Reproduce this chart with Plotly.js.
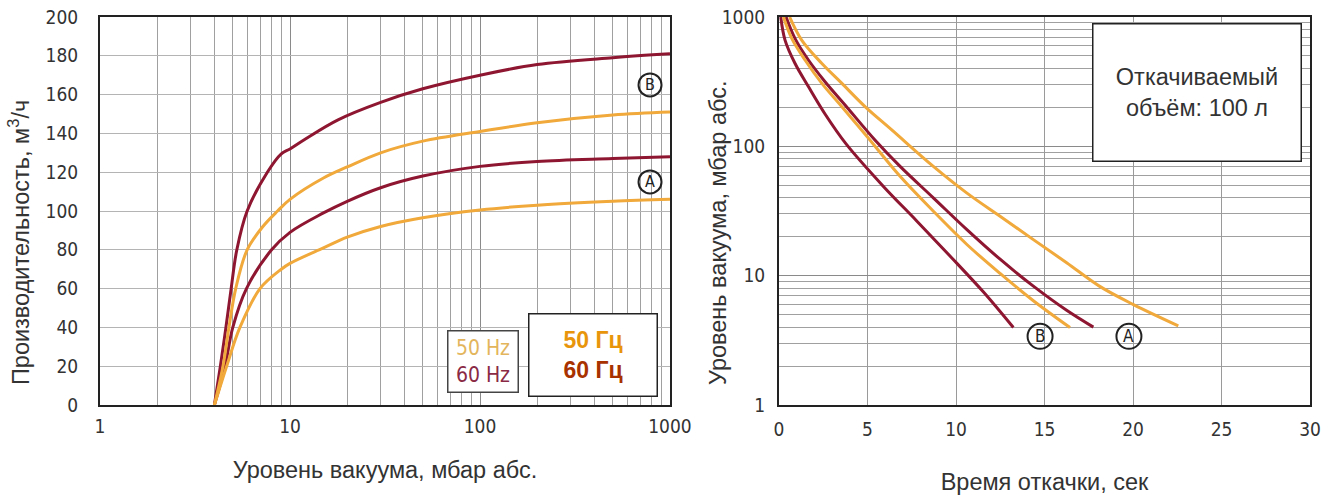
<!DOCTYPE html>
<html><head><meta charset="utf-8">
<script src="https://cdn.plot.ly/plotly-3.0.1.min.js"></script>
<style>html,body{margin:0;padding:0;background:#fff;} #chart{width:1334px;height:499px;}</style>
</head><body><div id="chart"></div>
<script>
// ---------- Left chart: pumping speed (m3/h) vs vacuum level (mbar abs.) ----------
const pressB60 = [4, 4.3, 4.6, 4.9, 5.25, 5.95, 7.6, 9.0, 10, 12, 17.9, 30, 50, 100, 200, 500, 1000];
const speedB60 = [0, 20, 40, 60, 80, 100, 120, 129.5, 132, 137, 147, 156, 163, 170, 175.5, 179, 181];
const pressB50 = [4, 4.44, 4.77, 5.18, 5.95, 7.2, 8.6, 10, 15, 20, 30, 50, 100, 200, 500, 1000];
const speedB50 = [0, 20, 40, 60, 80, 92, 100, 106, 117, 122.7, 130, 136, 141, 145.5, 149.5, 151];
const pressA60 = [4, 4.55, 5.0, 5.9, 8.0, 10, 15, 20, 30, 50, 100, 200, 500, 1000];
const speedA60 = [0, 20, 40, 60, 80, 89, 99, 105, 112, 118, 123, 125.5, 127, 128];
const pressA50 = [4, 4.64, 5.45, 6.95, 9.0, 10, 15, 20, 30, 50, 100, 200, 500, 1000];
const speedA50 = [0, 20, 40, 60, 70, 73, 81, 86.5, 92, 96.5, 100.5, 103, 105, 106];

// ---------- Right chart: vacuum level (mbar abs.) vs pump-down time (s) ----------
const timeB60 = [0.1, 0.34, 0.9, 1.66, 2.6, 3.8, 5.9, 7.78, 9.66, 11.54, 13.24];
const vacB60  = [1000, 663, 439, 290, 178, 104, 49, 26.5, 14.2, 7.5, 3.97];
const timeB50 = [0.25, 0.72, 1.47, 2.41, 3.54, 4.95, 6.84, 8.72, 10.6, 12.49, 14.37, 16.44];
const vacB50  = [1000, 684, 465, 308, 203, 120, 58.6, 31.5, 17.5, 10.4, 6.4, 3.97];
const timeA60 = [0.4, 0.9, 1.66, 2.6, 3.73, 5.42, 6.84, 8.72, 10.6, 12.49, 14.37, 16.25, 17.76];
const vacA60  = [1000, 684, 465, 316, 209, 112, 70, 40, 22.8, 13.4, 8.3, 5.4, 4.0];
const timeA50 = [0.6, 1.28, 2.41, 3.54, 4.86, 6.37, 8.72, 10.6, 12.49, 14.37, 16.25, 18.1, 20.0, 22.56];
const vacA50  = [1000, 663, 439, 308, 203, 134, 70, 43.7, 28.8, 19, 12.6, 8.3, 6.0, 4.09];

// Curve group labels (A / B)
const leftLabelText = ['B', 'A'];
const leftLabelX = [785, 785];
const leftLabelY = [165, 115];
const rightLabelText = ['B', 'A'];
const rightLabelX = [14.75, 19.77];
const rightLabelY = [3.4, 3.4];

const logTickVals = [1, 10, 100, 1000];
const logTickText = ['1', '10', '100', '1000'];

const RED = '#8e1630';
const ORANGE = '#f0a93a';
const LW = 3;
const narrow = '"Liberation Sans Narrow", "DejaVu Sans Condensed", sans-serif';
const tickFont = {family: narrow, size: 19, color: '#333'};
const titleFont = {family: '"Liberation Sans", Arial, sans-serif', size: 23.5, color: '#333'};

function line(x, y, color, xa, ya, name) {
  return {x: x, y: y, type: 'scatter', mode: 'lines', name: name,
    line: {color: color, width: LW, shape: 'spline', smoothing: 1.0},
    xaxis: xa, yaxis: ya, hoverinfo: 'skip', showlegend: false};
}

const traces = [
  line(pressB60, speedB60, RED, 'x', 'y', 'B 60 Гц'),
  line(pressA60, speedA60, RED, 'x', 'y', 'A 60 Гц'),
  line(pressB50, speedB50, ORANGE, 'x', 'y', 'B 50 Гц'),
  line(pressA50, speedA50, ORANGE, 'x', 'y', 'A 50 Гц'),
  line(timeB60, vacB60, RED, 'x2', 'y2', 'B 60 Гц'),
  line(timeA60, vacA60, RED, 'x2', 'y2', 'A 60 Гц'),
  line(timeB50, vacB50, ORANGE, 'x2', 'y2', 'B 50 Гц'),
  line(timeA50, vacA50, ORANGE, 'x2', 'y2', 'A 50 Гц'),
  {x: leftLabelX, y: leftLabelY, type: 'scatter', mode: 'markers',
   marker: {symbol: 'circle-open', size: 23, color: '#222', line: {width: 2, color: '#222'}},
   xaxis: 'x', yaxis: 'y', hoverinfo: 'skip', showlegend: false, cliponaxis: false},
  {x: rightLabelX, y: rightLabelY, type: 'scatter', mode: 'markers',
   marker: {symbol: 'circle-open', size: 25, color: '#222', line: {width: 2, color: '#222'}},
   xaxis: 'x2', yaxis: 'y2', hoverinfo: 'skip', showlegend: false, cliponaxis: false}
];

const axisLine = {showline: true, linecolor: '#222', linewidth: 2, mirror: true, ticks: '', zeroline: false};

const annotations = [
  {xref: 'paper', yref: 'paper', x: 0.31694, y: 0.1134, xanchor: 'center', yanchor: 'middle',
   showarrow: false, align: 'center', width: 69, height: 60, borderpad: 0,
   bgcolor: '#fff', bordercolor: '#444', borderwidth: 1.5,
   font: {family: narrow, size: 21, color: '#333'},
   text: '<span style="color:#e3b55c">50 Hz</span><br><span style="color:#8a2a45">60 Hz</span>'},
  {xref: 'paper', yref: 'paper', x: 0.40785, y: 0.13015, xanchor: 'center', yanchor: 'middle',
   showarrow: false, align: 'center', width: 127, height: 81, borderpad: 0,
   bgcolor: '#fff', bordercolor: '#222', borderwidth: 1.5,
   font: {family: '"Liberation Sans", Arial, sans-serif', size: 23, color: '#333'},
   text: '<b><span style="color:#e8950c">50 Гц</span><br><span style="color:#a83200">60 Гц</span></b>'},
  {xref: 'paper', yref: 'paper', x: 0.90702, y: 0.8067, xanchor: 'center', yanchor: 'middle',
   showarrow: false, align: 'center', width: 207, height: 136, borderpad: 0,
   bgcolor: '#fff', bordercolor: '#222', borderwidth: 1.5,
   font: titleFont,
   text: 'Откачиваемый<br>объём: 100 л'},
  // y-axis titles (placed as in the reference, off-centre)
  {xref: 'paper', yref: 'paper', x: -0.0669, y: 0.4175, xanchor: 'center', yanchor: 'middle',
   showarrow: false, textangle: -90, font: titleFont,
   text: 'Производительность, м<sup>3</sup>/ч'},
  {xref: 'paper', yref: 'paper', x: 0.5107, y: 0.4433, xanchor: 'center', yanchor: 'middle',
   showarrow: false, textangle: -90, font: titleFont,
   text: 'Уровень вакуума, мбар абс.'}
];
// letters inside the circles (annotation x on log axis is given in log10 units)
leftLabelText.forEach(function (t, i) {
  annotations.push({xref: 'x', yref: 'y', x: Math.log10(leftLabelX[i]), y: leftLabelY[i],
    text: t, showarrow: false, xanchor: 'center', yanchor: 'middle',
    font: {family: narrow, size: 16, color: '#222'}});
});
rightLabelText.forEach(function (t, i) {
  annotations.push({xref: 'x2', yref: 'y2', x: rightLabelX[i], y: Math.log10(rightLabelY[i]),
    text: t, showarrow: false, xanchor: 'center', yanchor: 'middle',
    font: {family: narrow, size: 17, color: '#222'}});
});

const layout = {
  width: 1334, height: 499,
  margin: {l: 100, r: 24, t: 17, b: 94},
  paper_bgcolor: '#fff', plot_bgcolor: '#fff',
  showlegend: false,
  xaxis: Object.assign({}, axisLine, {
    type: 'log', range: [0, 3], domain: [0, 0.47107], anchor: 'y',
    tickmode: 'array', tickvals: logTickVals, ticktext: logTickText,
    showgrid: true, gridcolor: '#8a8a8a', gridwidth: 1,
    minor: {dtick: 'D1', showgrid: true, gridcolor: '#a0a0a0', gridwidth: 1, ticks: ''},
    tickfont: tickFont, ticklabelstandoff: 3,
    title: {text: 'Уровень вакуума, мбар абс.', font: titleFont, standoff: 26}
  }),
  yaxis: Object.assign({}, axisLine, {
    range: [0, 200], dtick: 20, domain: [0, 1], anchor: 'x',
    showgrid: true, gridcolor: '#b4b4b4', gridwidth: 1,
    tickfont: tickFont, ticklabelstandoff: 16
  }),
  xaxis2: Object.assign({}, axisLine, {
    range: [0, 30], dtick: 5, domain: [0.56116, 1], anchor: 'y2',
    showgrid: true, gridcolor: '#9a9a9a', gridwidth: 1,
    tickfont: tickFont, ticklabelstandoff: 6,
    title: {text: 'Время откачки, сек', font: titleFont, standoff: 35}
  }),
  yaxis2: Object.assign({}, axisLine, {
    type: 'log', range: [0, 3], domain: [0, 1], anchor: 'x2',
    tickmode: 'array', tickvals: logTickVals, ticktext: logTickText,
    showgrid: true, gridcolor: '#8a8a8a', gridwidth: 1,
    minor: {dtick: 'D1', showgrid: true, gridcolor: '#a0a0a0', gridwidth: 1, ticks: ''},
    tickfont: tickFont, ticklabelstandoff: 8
  }),
  annotations: annotations
};

Plotly.newPlot('chart', traces, layout, {displayModeBar: false, staticPlot: true});
</script>
</body></html>
